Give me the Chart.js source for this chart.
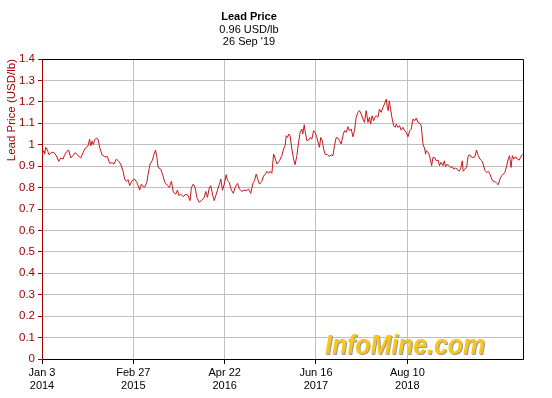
<html>
<head>
    <script src="https://cdn.jsdelivr.net/npm/chart.js@4.4.0/dist/chart.umd.min.js"></script>
    <style>
        body { margin: 0; background: #fff; }
    </style>
</head>
<body>
    <canvas id="myChart" width="552" height="398"></canvas>
    <script>
        // days after Jan 3 2014 (as spaced on the chart's x axis) and lead price in USD/lb
        const days = [0, 9, 12, 17, 25, 32, 43, 55, 66, 77, 86, 97, 104, 117, 123, 132, 143, 153, 166, 178, 189, 199, 212, 219, 224, 230, 236, 242, 250, 258, 265, 276, 288, 301, 311, 322, 331, 342, 353, 362, 373, 380, 388, 396, 403, 414, 426, 437,
            442, 449, 457, 465, 472, 482, 488, 497, 508, 515, 522, 528, 534, 546, 554, 565, 577, 586, 595, 604, 615, 623, 630, 638, 650, 661, 672, 681, 687, 696, 704, 712, 723, 733, 746, 753, 761, 769, 776, 784, 792, 799, 807, 816, 822, 830, 838, 847, 853, 861, 871, 880,
            888, 899, 908, 919, 930, 939, 950, 960, 970, 977, 985, 992, 1000, 1011, 1019, 1026, 1034, 1042, 1049, 1057, 1065, 1072, 1080, 1092, 1103, 1111, 1118, 1123, 1129, 1135, 1141, 1149, 1157, 1164, 1172, 1180, 1187, 1195, 1199, 1206, 1210, 1218, 1226, 1233, 1241, 1249, 1256, 1264, 1272, 1276, 1282, 1289, 1295, 1302, 1313, 1322,
            1330, 1338, 1345, 1353, 1361, 1368, 1376, 1384, 1391, 1399, 1407, 1414, 1422, 1430, 1437, 1445, 1453, 1460, 1468, 1476, 1483, 1491, 1499, 1506, 1511, 1518, 1525, 1531, 1537, 1545, 1552, 1560, 1568, 1575, 1583, 1588, 1592, 1597, 1603, 1609, 1617, 1624, 1629, 1637, 1644, 1652, 1660, 1668, 1675, 1683, 1691, 1698, 1706, 1714, 1721, 1729, 1737, 1744, 1752, 1760, 1764,
            1767, 1776, 1782, 1792, 1798, 1807, 1813, 1822, 1828, 1835, 1844, 1850, 1856, 1864, 1871, 1879, 1887, 1894, 1902, 1910, 1917, 1925, 1933, 1937, 1945, 1953, 1960, 1968, 1975, 1983, 1991, 1998, 2006, 2014, 2022, 2029, 2037, 2045, 2052, 2060, 2068, 2075, 2083, 2091, 2098, 2106, 2114, 2121, 2129, 2137, 2144, 2150, 2157, 2163, 2171, 2178, 2186, 2194, 2201, 2209]
        const prices = [0.955, 0.972, 0.956, 0.988, 0.975, 0.953, 0.964, 0.964, 0.949, 0.922, 0.938, 0.933, 0.953, 0.972, 0.975, 0.938, 0.950, 0.963, 0.949, 0.938, 0.964, 0.984, 0.995, 1.026, 0.995, 1.016, 1.0, 1.022, 1.031, 1.026, 0.988, 0.953, 0.944, 0.944, 0.913, 0.916, 0.910, 0.933, 0.922, 0.910, 0.876, 0.840, 0.829, 0.837, 0.809, 0.832, 0.840, 0.823,
            0.809, 0.788, 0.816, 0.804, 0.801, 0.824, 0.863, 0.910, 0.928, 0.956, 0.975, 0.944, 0.894, 0.886, 0.863, 0.824, 0.809, 0.801, 0.829, 0.778, 0.770, 0.788, 0.762, 0.770, 0.757, 0.770, 0.762, 0.739, 0.801, 0.816, 0.801, 0.754, 0.731, 0.739, 0.754, 0.782, 0.754, 0.798, 0.809, 0.770, 0.739, 0.762, 0.788, 0.816, 0.840, 0.788, 0.816, 0.860, 0.832, 0.824, 0.788, 0.773,
            0.801, 0.820, 0.793, 0.782, 0.788, 0.785, 0.793, 0.773, 0.820, 0.832, 0.863, 0.840, 0.816, 0.829, 0.855, 0.860, 0.876, 0.866, 0.876, 0.866, 0.956, 0.938, 0.910, 0.925, 0.949, 0.980, 0.995, 1.042, 1.034, 1.050, 1.042, 0.980, 0.933, 0.907, 0.949, 1.011, 1.058, 1.073, 1.050, 1.093, 1.062, 1.019, 1.022, 1.034, 1.026, 1.065, 1.058, 1.034, 1.003, 0.988, 1.034, 1.019, 0.980, 0.956, 0.953, 0.944,
            0.953, 0.949, 0.995, 1.034, 1.031, 1.019, 1.003, 1.042, 1.065, 1.058, 1.084, 1.065, 1.073, 1.037, 1.065, 1.128, 1.151, 1.159, 1.143, 1.120, 1.104, 1.159, 1.104, 1.128, 1.096, 1.135, 1.112, 1.128, 1.135, 1.128, 1.166, 1.151, 1.174, 1.190, 1.213, 1.174, 1.159, 1.205, 1.166, 1.128, 1.089, 1.081, 1.096, 1.081, 1.089, 1.068, 1.081, 1.065, 1.058, 1.037, 1.065, 1.073, 1.120, 1.112, 1.124, 1.104, 1.100, 1.089, 1.003, 0.980, 0.956,
            0.972, 0.964, 0.949, 0.902, 0.941, 0.938, 0.925, 0.928, 0.902, 0.918, 0.902, 0.925, 0.897, 0.910, 0.902, 0.894, 0.897, 0.886, 0.891, 0.886, 0.876, 0.886, 0.925, 0.876, 0.886, 0.897, 0.949, 0.953, 0.941, 0.941, 0.944, 0.975, 0.949, 0.933, 0.925, 0.910, 0.879, 0.871, 0.876, 0.863, 0.840, 0.829, 0.829, 0.820, 0.813, 0.840, 0.855, 0.863, 0.871, 0.902, 0.933, 0.949, 0.894, 0.949, 0.933, 0.944, 0.933, 0.928, 0.941, 0.956]

        const tickDays = [0, 420, 840, 1260, 1680]
        const tickLabels = [['Jan 3', '2014'], ['Feb 27', '2015'], ['Apr 22', '2016'], ['Jun 16', '2017'], ['Aug 10', '2018']]
        const titleLines = ['Lead Price', '0.96 USD/lb', "26 Sep '19"]

        const font = '"Liberation Sans", Arial, sans-serif'
        const darkRed = '#a00000'

        // titles, black frame and watermark
        const extras = {
            id: 'extras',
            beforeDatasetsDraw(chart) {
                const ctx = chart.ctx
                ctx.save()
                ctx.font = 'italic bold 27px ' + font
                ctx.textAlign = 'left'
                ctx.textBaseline = 'alphabetic'
                ctx.fillStyle = '#9a9a9a'
                ctx.fillText('InfoMine.com', 326, 355, 160)
                ctx.fillStyle = '#f6c61e'
                ctx.fillText('InfoMine.com', 325, 354, 160)
                ctx.restore()
            },
            afterDraw(chart) {
                const ctx = chart.ctx
                const a = chart.chartArea
                ctx.save()
                ctx.strokeStyle = '#000'
                ctx.lineWidth = 1
                ctx.beginPath()
                ctx.moveTo(a.left, a.top + 0.5)
                ctx.lineTo(a.right + 0.5, a.top + 0.5)
                ctx.lineTo(a.right + 0.5, a.bottom)
                ctx.stroke()
                ctx.fillStyle = '#000'
                ctx.textAlign = 'center'
                ctx.textBaseline = 'middle'
                ctx.font = 'bold 11px ' + font
                ctx.fillText(titleLines[0], 249, 17)
                ctx.font = '11px ' + font
                ctx.fillText(titleLines[1], 249, 29.5)
                ctx.fillText(titleLines[2], 249, 42)
                ctx.restore()
            }
        }

        drawChart()
        function drawChart() {
            const ctx = document.getElementById('myChart').getContext('2d')
            const myChart = new Chart(ctx, {
                type: 'line',
                data: {
                    datasets: [{
                        label: 'Lead Price',
                        data: days.map((d, i) => ({ x: d, y: prices[i] })),
                        borderColor: '#c8161c',
                        borderWidth: 1,
                        pointRadius: 0,
                        tension: 0,
                        fill: false
                    }]
                },
                options: {
                    responsive: false,
                    animation: false,
                    layout: { padding: { left: 0, right: 29, top: 59, bottom: 0 } },
                    plugins: {
                        legend: { display: false },
                        tooltip: { enabled: false }
                    },
                    scales: {
                        x: {
                            type: 'linear',
                            min: 0,
                            max: 2212,
                            afterBuildTicks: scale => { scale.ticks = tickDays.map(v => ({ value: v })) },
                            afterFit: scale => { scale.height = 39 },
                            grid: { color: '#c0c0c0', tickColor: '#000', tickLength: 5 },
                            border: { color: '#000' },
                            ticks: {
                                autoSkip: false,
                                maxRotation: 0,
                                color: '#000',
                                padding: 2,
                                font: { family: font, size: 11 },
                                callback: v => tickLabels[tickDays.indexOf(v)]
                            }
                        },
                        y: {
                            min: 0,
                            max: 1.4,
                            afterFit: scale => { scale.width = 42 },
                            grid: { color: '#c0c0c0', tickColor: darkRed, tickLength: 4 },
                            border: { color: darkRed },
                            ticks: {
                                stepSize: 0.1,
                                color: darkRed,
                                padding: 3,
                                font: { family: font, size: 11.5 },
                                callback: v => +v.toFixed(1)
                            },
                            title: {
                                display: true,
                                text: 'Lead Price (USD/lb)',
                                align: 'end',
                                color: darkRed,
                                padding: { top: 5, bottom: 0 },
                                font: { family: font, size: 11.5 }
                            }
                        }
                    }
                },
                plugins: [extras]
            })
        }
    </script>
</body>
</html>
